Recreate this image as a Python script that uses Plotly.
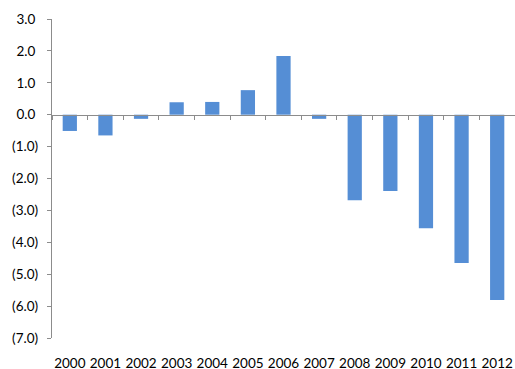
import plotly.graph_objects as go

years = ["2000", "2001", "2002", "2003", "2004", "2005", "2006",
         "2007", "2008", "2009", "2010", "2011", "2012"]
values = [-0.51, -0.65, -0.13, 0.39, 0.40, 0.77, 1.84,
          -0.13, -2.68, -2.39, -3.56, -4.65, -5.81]
y_ticks = [3, 2, 1, 0, -1, -2, -3, -4, -5, -6, -7]


def fmt(v):
    return f"({abs(v):.1f})" if v < 0 else f"{v:.1f}\u2008"


y_text = [fmt(v) for v in y_ticks]

BAR = "#558ed5"
AX = "#8c8c8c"
FONT = dict(family="Lato, Carlito, Calibri, sans-serif", size=13.5, color="#000000")

fig = go.Figure()
fig.add_trace(go.Bar(x=years, y=values, marker=dict(color=BAR, line=dict(width=0)),
                     width=0.4, showlegend=False, hoverinfo="x+y"))
# invisible trace to hold the axis crossing at zero
fig.add_trace(go.Scatter(x=years, y=[0] * len(years), xaxis="x2", mode="lines",
                         line=dict(width=0), showlegend=False, hoverinfo="skip"))

y_min, y_max = -7, 3
fig.update_layout(
    width=515, height=369,
    margin=dict(l=52, r=0, t=19, b=31),
    paper_bgcolor="white", plot_bgcolor="white",
    font=FONT,
    xaxis=dict(type="category", showline=False, ticks="", showgrid=False,
               zeroline=False, tickfont=FONT, ticklabelstandoff=15,
               automargin=False, range=[-0.5, len(years) - 0.5]),
    xaxis2=dict(type="category", overlaying="x", anchor="free",
                position=(0 - y_min) / (y_max - y_min), side="bottom",
                showline=True, linecolor=AX, linewidth=1.3,
                ticks="outside", tickson="boundaries", ticklen=4, tickcolor=AX,
                tickwidth=1, showticklabels=False, showgrid=False,
                automargin=False,
                range=[-0.5, len(years) - 0.5], matches="x"),
    yaxis=dict(range=[y_min, y_max], tickvals=y_ticks, ticktext=y_text,
               showline=True, linecolor=AX, linewidth=1.3, ticks="outside",
               ticklen=4, tickcolor=AX, showgrid=False, zeroline=False,
               automargin=False, tickfont=FONT, ticklabelstandoff=6),
)

fig.write_html("out.html")
